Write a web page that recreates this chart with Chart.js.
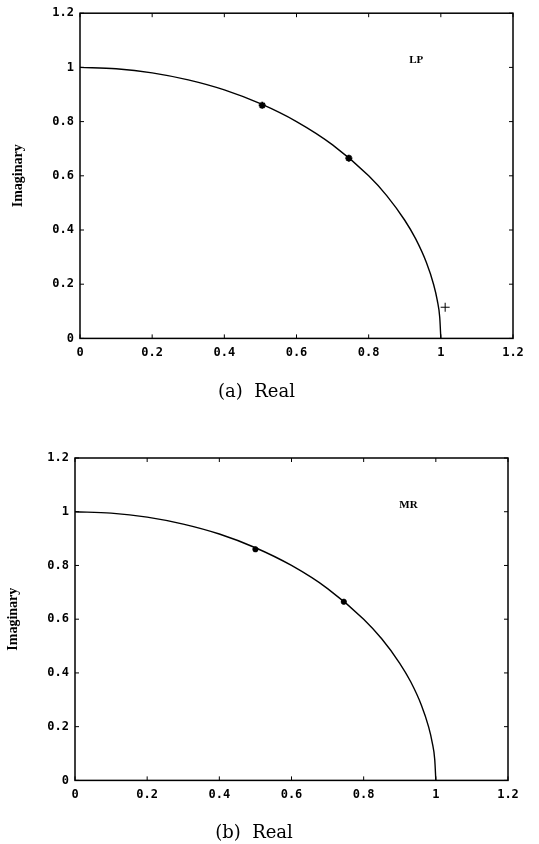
<!DOCTYPE html>
<html>
<head>
<meta charset="utf-8">
<script src="https://cdn.jsdelivr.net/npm/chart.js@4.4.1/dist/chart.umd.min.js"></script>
<style>
  html, body { margin: 0; padding: 0; background: #fff; }
  #wrap { position: relative; width: 539px; height: 844px; }
  canvas { position: absolute; left: 0; }
  #chartA { top: 0; }
  #chartB { top: 420px; }
</style>
</head>
<body>
<div id="wrap">
  <canvas id="chartA" width="539" height="410"></canvas>
  <canvas id="chartB" width="539" height="424"></canvas>
</div>
<script>
// axis ticks (same on both axes)
const tickValues = [0, 0.2, 0.4, 0.6, 0.8, 1, 1.2];
const tickLabels = ['0', '0.2', '0.4', '0.6', '0.8', '1', '1.2'];

// unit circle quadrant
const curveReal = [0, 0.1, 0.2, 0.3, 0.4, 0.5, 0.6, 0.7, 0.8, 0.85, 0.9, 0.93, 0.96, 0.98, 0.99, 0.997, 1.0];
const curveImag = [1.0, 0.995, 0.98, 0.954, 0.917, 0.866, 0.8, 0.714, 0.6, 0.527, 0.436, 0.368, 0.28, 0.199, 0.141, 0.077, 0.0];

// (a) LP markers
const lpPoleReal = [0.505, 0.745];
const lpPoleImag = [0.86, 0.665];
const lpCrossReal = [1.012];
const lpCrossImag = [0.115];

// (b) MR markers
const mrPoleReal = [0.5, 0.745];
const mrPoleImag = [0.86, 0.665];

const zip = (xs, ys) => xs.map((x, i) => ({ x: x, y: ys[i] }));

// box around the plot + inward tick marks on all four sides, plus the LP/MR tag
const framePlugin = {
  id: 'frame',
  afterDraw(chart) {
    const { ctx, chartArea: a, scales } = chart;
    ctx.save();
    ctx.strokeStyle = '#000';
    ctx.lineWidth = 1.5;
    ctx.strokeRect(a.left, a.top, a.right - a.left, a.bottom - a.top);
    ctx.lineWidth = 1;
    ctx.beginPath();
    scales.x.ticks.forEach((t) => {
      const px = scales.x.getPixelForValue(t.value);
      ctx.moveTo(px, a.bottom); ctx.lineTo(px, a.bottom - 4);
      ctx.moveTo(px, a.top); ctx.lineTo(px, a.top + 4);
    });
    scales.y.ticks.forEach((t) => {
      const py = scales.y.getPixelForValue(t.value);
      ctx.moveTo(a.left, py); ctx.lineTo(a.left + 4, py);
      ctx.moveTo(a.right, py); ctx.lineTo(a.right - 4, py);
    });
    ctx.stroke();

    const tag = chart.options.plugins.frame;
    if (tag && tag.text) {
      ctx.fillStyle = '#000';
      ctx.font = 'bold 11px "Liberation Serif"';
      ctx.textAlign = 'center';
      ctx.textBaseline = 'middle';
      ctx.fillText(tag.text, scales.x.getPixelForValue(tag.x), scales.y.getPixelForValue(tag.y));
    }
    ctx.restore();
  }
};

function axis(extra) {
  return Object.assign({
    type: 'linear',
    min: 0,
    max: 1.2,
    afterBuildTicks: (scale) => { scale.ticks = tickValues.map((v) => ({ value: v })); },
    ticks: {
      color: '#000',
      font: { family: '"DejaVu Sans Mono"', size: 12, weight: 'bold' },
      callback: (v, i) => tickLabels[i],
      maxRotation: 0,
      autoSkip: false
    },
    grid: { drawOnChartArea: false, drawTicks: false },
    border: { display: false }
  }, extra);
}

function makeChart(id, o) {
  return new Chart(document.getElementById(id), {
    type: 'scatter',
    data: { datasets: o.datasets },
    options: {
      responsive: false,
      animation: false,
      layout: { padding: { top: o.top, right: o.right, left: 0, bottom: 0 } },
      scales: {
        x: axis({
          afterFit: (s) => { s.height = o.xAxisHeight; },
          ticks: Object.assign({}, axis().ticks, { padding: 7 })
        }),
        y: axis({
          afterFit: (s) => { s.width = o.yAxisWidth; },
          ticks: Object.assign({}, axis().ticks, { padding: 6 }),
          title: {
            display: true,
            text: 'Imaginary',
            color: '#000',
            font: { family: '"Liberation Serif"', size: 14, weight: 'bold' },
            padding: { top: o.yTitleOffset, bottom: 0 }
          }
        })
      },
      plugins: {
        legend: { display: false },
        tooltip: { enabled: false },
        title: {
          display: true,
          position: 'bottom',
          text: o.caption,
          color: '#000',
          font: { family: '"DejaVu Serif"', size: 18, weight: 'normal' },
          padding: { top: 0, bottom: o.captionBottom }
        },
        frame: o.tag
      }
    },
    plugins: [framePlugin]
  });
}

const curveStyle = {
  showLine: true,
  borderColor: '#000',
  borderWidth: 1.4,
  pointRadius: 0,
  cubicInterpolationMode: 'monotone'
};
const poleStyle = {
  pointStyle: 'star',
  pointRadius: 3.5,
  borderWidth: 2,
  borderColor: '#000',
  backgroundColor: '#000'
};

makeChart('chartA', {
  top: 13, right: 26, yAxisWidth: 80, xAxisHeight: 43, yTitleOffset: 10,
  caption: '(a)  Real', captionBottom: 7,
  tag: { text: 'LP', x: 0.932, y: 1.027 },
  datasets: [
    Object.assign({ label: 'LP', data: zip(curveReal, curveImag) }, curveStyle),
    Object.assign({ label: 'LP poles', data: zip(lpPoleReal, lpPoleImag) }, poleStyle),
    {
      label: 'LP cross', data: zip(lpCrossReal, lpCrossImag),
      pointStyle: 'cross', pointRadius: 4.5, borderWidth: 1, borderColor: '#000'
    }
  ]
});

makeChart('chartB', {
  top: 38, right: 31, yAxisWidth: 75, xAxisHeight: 42, yTitleOffset: 5,
  caption: '(b)  Real', captionBottom: 0,
  tag: { text: 'MR', x: 0.924, y: 1.025 },
  datasets: [
    Object.assign({ label: 'MR', data: zip(curveReal, curveImag) }, curveStyle),
    Object.assign({ label: 'MR poles', data: zip(mrPoleReal, mrPoleImag) }, poleStyle, { pointRadius: 3 })
  ]
});
</script>
</body>
</html>
